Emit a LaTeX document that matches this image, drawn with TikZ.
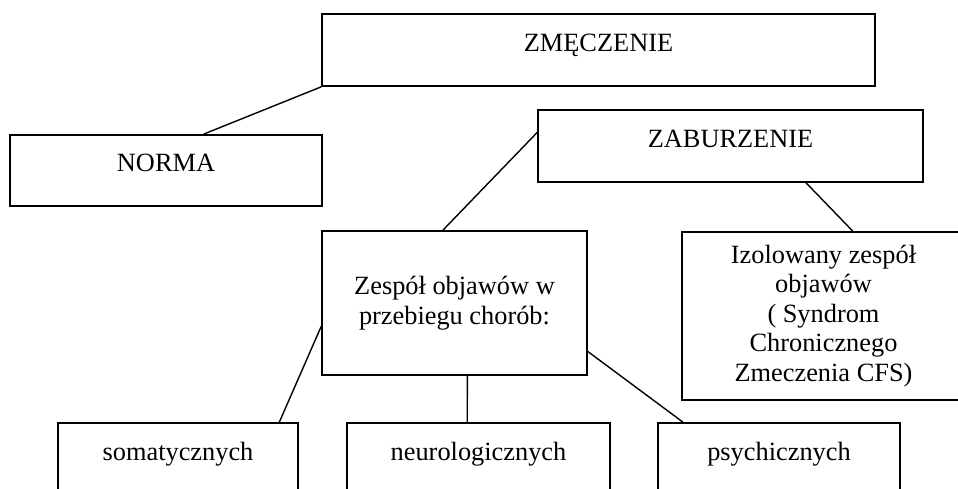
\documentclass[tikz,border=0pt]{standalone}
\usepackage{fontspec}
\setmainfont{Liberation Serif}
\usepackage{tikz}

\begin{document}
\begin{tikzpicture}[x=0.02cm,y=-0.02cm,thick,font=\fontsize{15pt}{16.8pt}\selectfont,
  blk/.style={rectangle,draw,line width=1pt,inner sep=0pt,align=center},
  one/.style={blk,text height=0.35cm,text depth=0.3cm}]
\useasboundingbox (0,0) rectangle (958,489);
\clip (0,0) rectangle (958,489);
\node[one,minimum width=11.06cm,minimum height=1.44cm] (zmecz) at (598.5,50) {ZMĘCZENIE};
\node[one,minimum width=6.24cm,minimum height=1.42cm] (norma) at (166,170.5) {NORMA};
\node[one,minimum width=7.7cm,minimum height=1.44cm] (zabur) at (730.5,146) {ZABURZENIE};
\node[blk,minimum width=5.3cm,minimum height=2.88cm] (zespol) at (454.5,303) {Zespół objawów w\\przebiegu chorób:};
\node[blk,minimum width=5.66cm,minimum height=3.36cm] (izol) at (823.5,316) {Izolowany zespół\\objawów\\( Syndrom\\Chronicznego\\Zmeczenia CFS)};
\node[one,minimum width=4.8cm,minimum height=1.44cm] (somat) at (178,459) {somatycznych};
\node[one,minimum width=5.26cm,minimum height=1.44cm] (neuro) at (478.5,459) {neurologicznych};
\node[one,minimum width=4.84cm,minimum height=1.44cm] (psych) at (779,459) {psychicznych};
\draw[line width=0.8pt] (zmecz.south west) -- (norma.44);
\draw[line width=0.8pt] (zabur.176.7) -- (zespol.99.8);
\draw[line width=0.8pt] (zabur.-26.4) -- (izol.71.9);
\draw[line width=0.8pt] (zespol.190.3) -- (somat.20.4);
\draw[line width=0.8pt] (zespol.-80.2) -- (neuro.107.7);
\draw[line width=0.8pt] (zespol.-20.3) -- (psych.159.6);
\end{tikzpicture}
\end{document}
